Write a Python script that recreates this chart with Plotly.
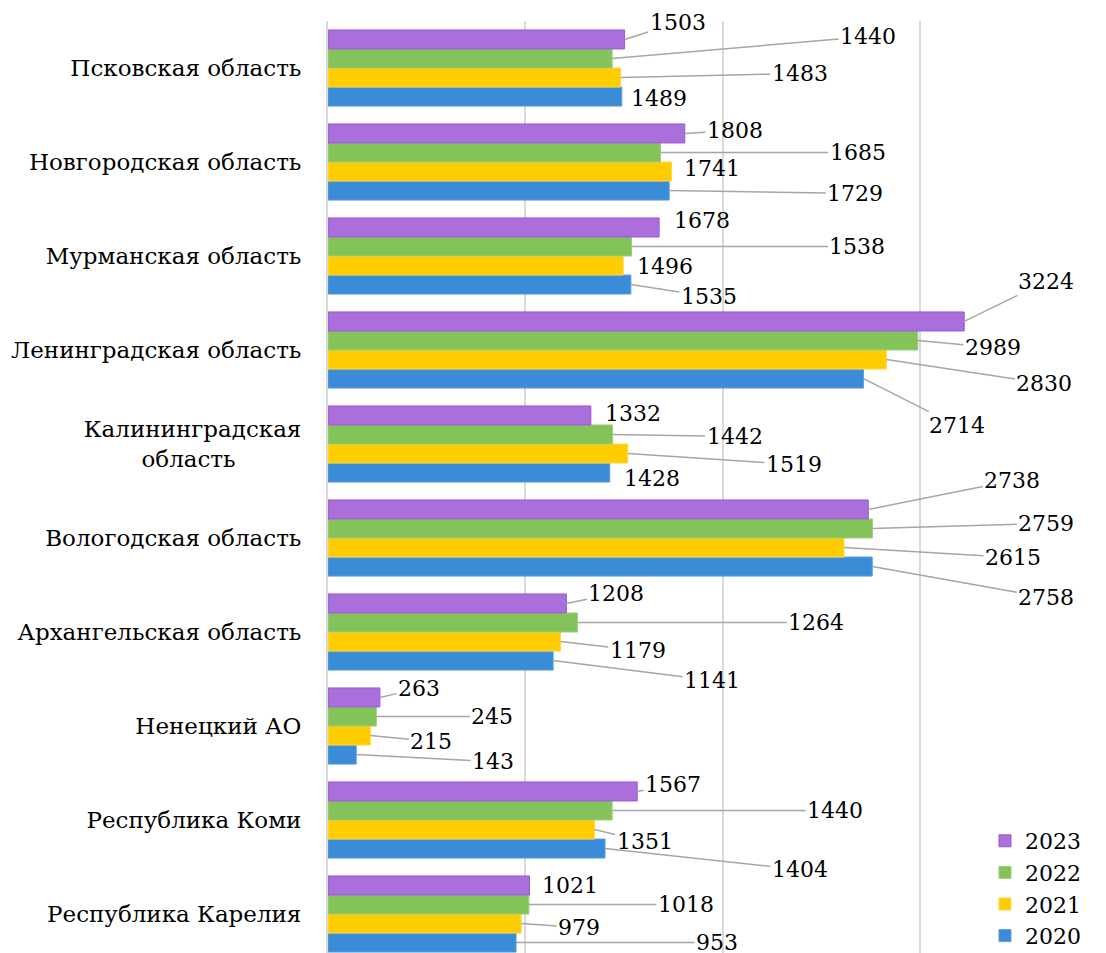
import plotly.graph_objects as go

# ---- data (categories top to bottom) ----
regions = [
    "Псковская область",
    "Новгородская область",
    "Мурманская область",
    "Ленинградская область",
    "Калининградская область",
    "Вологодская область",
    "Архангельская область",
    "Ненецкий АО",
    "Республика Коми",
    "Республика Карелия",
]
years = ["2020", "2021", "2022", "2023"]
v2020 = [1489, 1729, 1535, 2714, 1428, 2758, 1141, 143, 1404, 953]
v2021 = [1483, 1741, 1496, 2830, 1519, 2615, 1179, 215, 1351, 979]
v2022 = [1440, 1685, 1538, 2989, 1442, 2759, 1264, 245, 1440, 1018]
v2023 = [1503, 1808, 1678, 3224, 1332, 2738, 1208, 263, 1567, 1021]
values = [v2020, v2021, v2022, v2023]

# ---- styles ----
colors = ["#3A8CD6", "#FFCC00", "#84C25A", "#AB6FDC"]
edges = ["#5B9FE0", "#FFD84A", "#9BCF78", "#9A58D8"]
FONT = "DejaVu Serif"

# label offsets (px, relative to bar end) and leader-line flag, per year, per region
lab_2020 = [(37, 2, 0), (186, 3, 1), (78, 12, 1), (93, 47, 1), (42, 6, 0),
            (174, 31, 1), (159, 20, 1), (137, 7, 1), (195, 21, 1), (201, 0, 1)]
lab_2021 = [(179, -4, 1), (40, -3, 0), (42, 1, 0), (158, 24, 1), (166, 11, 1),
            (169, 10, 1), (77, 9, 1), (61, 6, 1), (50, 12, 1), (58, 4, 1)]
lab_2022 = [(256, -22, 1), (197, 0, 1), (226, 0, 1), (75, 7, 1), (122, 2, 1),
            (174, -5, 1), (239, 0, 1), (116, 0, 1), (223, 0, 1), (157, 0, 1)]
lab_2023 = [(53, -17, 1), (50, -3, 1), (43, -7, 0), (82, -40, 1), (42, -2, 0),
            (144, -29, 1), (50, -10, 1), (39, -9, 1), (36, -7, 1), (41, 0, 0)]
labels = [lab_2020, lab_2021, lab_2022, lab_2023]

n = len(regions)
ypos = list(range(n - 1, -1, -1))
BARGAP = 0.19


def wrap(name):
    if name == "Калининградская область":
        return "Калининградская<br>область" + "\u00a0" * 9
    return name


fig = go.Figure()
for k, yr in enumerate(years):
    fig.add_trace(go.Bar(
        y=ypos, x=values[k], orientation="h", name=yr,
        marker=dict(color=colors[k], line=dict(color=edges[k], width=1)),
    ))

annotations = []
bw = (1 - BARGAP) / len(years)
for k in range(len(years)):
    off = (k - (len(years) - 1) / 2) * bw
    for i in range(n):
        dx, dy, lead = labels[k][i]
        a = dict(x=values[k][i], y=ypos[i] + off, xref="x", yref="y",
                 text=str(values[k][i]), font=dict(family=FONT, size=22, color="black"))
        if lead:
            a.update(showarrow=True, ax=dx, ay=dy, arrowhead=0, arrowwidth=1.5,
                     arrowcolor="#A6A6A6", standoff=0, startstandoff=0)
        else:
            a.update(showarrow=False, xshift=dx, yshift=-dy)
        annotations.append(a)

fig.update_layout(
    width=1106, height=953,
    margin=dict(l=320, r=14, t=13, b=0, autoexpand=False),
    paper_bgcolor="white", plot_bgcolor="white",
    barmode="group", bargap=BARGAP, bargroupgap=0,
    font=dict(family=FONT, size=22, color="black"),
    showlegend=True,
    legend=dict(traceorder="reversed", x=0.851, y=0.150, xanchor="left", yanchor="top",
                font=dict(family=FONT, size=22, color="black"), bgcolor="rgba(0,0,0,0)",
                itemwidth=30),
    annotations=annotations,
)
fig.update_xaxes(range=[0, 772 / 0.19733], tickvals=[0, 1000, 2000, 3000],
                 showticklabels=False, showgrid=True, gridcolor="#D9D9D9", gridwidth=1.5,
                 zeroline=False, showline=False, automargin=False)
fig.update_yaxes(range=[-0.5, 9.5], tickvals=ypos, ticktext=[wrap(r) for r in regions],
                 showgrid=False, zeroline=False, showline=True, linecolor="#D9D9D9", linewidth=2,
                 ticks="", ticklabelstandoff=20, automargin=False,
                 tickfont=dict(family=FONT, size=23, color="black"))

fig.write_html("out.html")
